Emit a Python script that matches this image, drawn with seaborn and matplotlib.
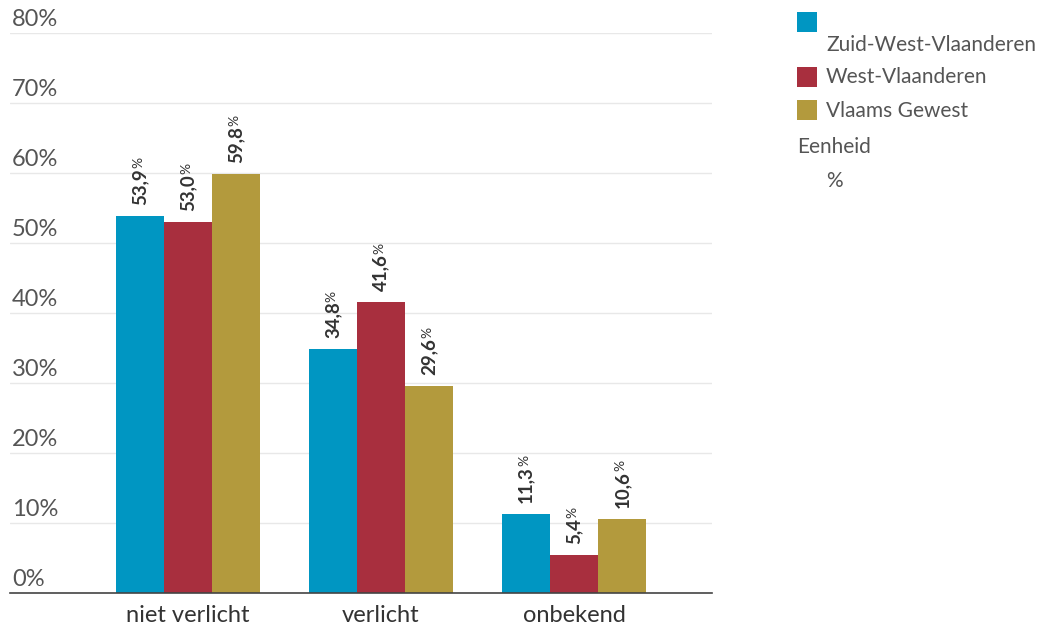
import numpy as np
import pandas as pd
import matplotlib.pyplot as plt
import matplotlib.transforms as mtransforms
from matplotlib.patches import Rectangle
import seaborn as sns

categorieen = ["niet verlicht", "verlicht", "onbekend"]
regios = ["Zuid-West-Vlaanderen", "West-Vlaanderen", "Vlaams Gewest"]
zwvl = [53.9, 34.8, 11.3]
wvl = [53.0, 41.6, 5.4]
vlaanderen = [59.8, 29.6, 10.6]
kleuren = ["#0096C2", "#A82F3E", "#B39A3D"]
y_ticks = [0, 10, 20, 30, 40, 50, 60, 70, 80]

sns.set_theme(style="white")
plt.rcParams["font.family"] = ["Lato", "DejaVu Sans"]

df = pd.DataFrame({
    "categorie": categorieen * 3,
    "regio": np.repeat(regios, 3),
    "waarde": zwvl + wvl + vlaanderen,
})

fig = plt.figure(figsize=(10.4, 6.3), dpi=100)
ax = fig.add_axes([10 / 1040, 37 / 630, 702 / 1040, 560 / 630])

sns.barplot(data=df, x="categorie", y="waarde", hue="regio", order=categorieen,
            hue_order=regios, palette=kleuren, width=0.75, saturation=1,
            gap=0, ax=ax, legend=False, errorbar=None, linewidth=0)

ax.set_ylim(0, 80)
ax.set_xlim(-0.922, 2.715)
ax.set_yticks(y_ticks)
ax.set_yticklabels([])
ax.tick_params(axis="y", length=0)
ax.grid(axis="y", color="#e8e8e8", linewidth=1)
ax.set_axisbelow(True)
for s in ["top", "right", "left"]:
    ax.spines[s].set_visible(False)
ax.spines["bottom"].set_color("#444444")
ax.spines["bottom"].set_linewidth(1.2)
ax.set_xlabel("")
ax.set_ylabel("")
ax.tick_params(axis="x", length=0, labelsize=17, labelcolor="#333333", pad=9)

trans = mtransforms.blended_transform_factory(ax.transAxes, ax.transData)
for v in y_ticks:
    ax.text(0.003, v + 0.5, f"{v}%", transform=trans, ha="left", va="bottom",
            fontsize=17, color="#555555")

# waardelabels: vet getal met kleiner procentteken erboven
fig.canvas.draw()
renderer = fig.canvas.get_renderer()
for cont in ax.containers:
    for bar in cont:
        h = bar.get_height()
        x = bar.get_x() + bar.get_width() / 2
        getal = f"{h:.1f}".replace(".", ",")
        t = ax.annotate(getal, xy=(x, h), xytext=(0, 8), textcoords="offset points",
                        rotation=90, ha="center", va="bottom", fontsize=13.5,
                        fontweight="bold", color="#333333")
        bb = t.get_window_extent(renderer)
        extra = bb.height * 72 / fig.dpi
        ax.annotate("%", xy=(x, h), xytext=(-1, 8 + extra), textcoords="offset points",
                    rotation=90, ha="center", va="bottom", fontsize=10,
                    color="#333333")

# legenda
lx, lw, lh = 797, 20, 20
items = [(12, 45), (67, 77), (100, 111)]
for (sq_top, txt_y), naam, kleur in zip(items, regios, kleuren):
    fig.add_artist(Rectangle((lx / 1040, 1 - (sq_top + lh) / 630), lw / 1040, lh / 630,
                             transform=fig.transFigure, facecolor=kleur, edgecolor="none"))
    fig.text(826 / 1040, 1 - txt_y / 630, naam, ha="left", va="center",
             fontsize=15, color="#555555")
fig.text(797 / 1040, 1 - 147 / 630, "Eenheid", ha="left", va="center",
         fontsize=15, color="#555555")
fig.text(826 / 1040, 1 - 181 / 630, "%", ha="left", va="center",
         fontsize=15, color="#555555")

fig.savefig("out.png", dpi=100, facecolor="white")
